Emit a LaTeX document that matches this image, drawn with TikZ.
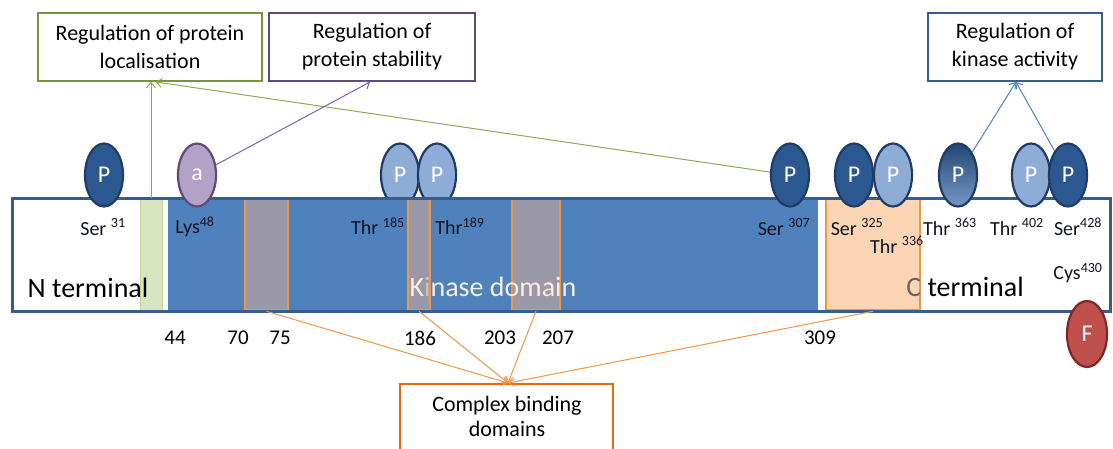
\documentclass[tikz,border=0pt]{standalone}
\usepackage{fontspec}
\setmainfont{Carlito}
\usetikzlibrary{shapes.geometric,arrows.meta}

\definecolor{barblue}{RGB}{79,129,189}
\definecolor{barline}{RGB}{56,93,138}
\definecolor{pdark}{RGB}{44,88,146}
\definecolor{plight}{RGB}{141,172,214}
\definecolor{pline}{RGB}{33,60,100}
\definecolor{afill}{RGB}{179,162,199}
\definecolor{aline}{RGB}{96,74,123}
\definecolor{ffill}{RGB}{192,80,77}
\definecolor{fline}{RGB}{125,40,38}
\definecolor{gfill}{RGB}{215,228,189}
\definecolor{gline}{RGB}{190,212,150}
\definecolor{stripefill}{RGB}{155,152,168}
\definecolor{orng}{RGB}{240,150,70}
\definecolor{ofill}{RGB}{252,213,180}
\definecolor{boxa}{RGB}{119,147,60}
\definecolor{boxb}{RGB}{96,74,123}
\definecolor{boxc}{RGB}{56,93,138}
\definecolor{boxd}{RGB}{228,108,10}
\definecolor{arrg}{RGB}{140,170,90}
\definecolor{arrp}{RGB}{128,100,162}
\definecolor{arrb}{RGB}{79,129,189}
\definecolor{cream}{RGB}{250,240,225}
\definecolor{dimtxt}{RGB}{205,195,185}
\definecolor{ctxt}{RGB}{105,100,100}
\definecolor{labtxt}{RGB}{15,20,35}

\begin{document}
\begin{tikzpicture}[x=1pt,y=-1pt,
 phos/.style={ellipse, draw=pline, line width=2.2pt, minimum width=38pt, minimum height=63pt, inner sep=0pt, text=white, font=\fontsize{24}{24}\selectfont},
 pd/.style={phos, fill=pdark},
 pl/.style={phos, fill=plight},
 regbox/.style={draw, line width=1.8pt, fill=white, align=center, minimum height=68pt, inner sep=0pt, font=\fontsize{22}{28}\selectfont},
 res/.style={font=\fontsize{20}{22}\selectfont, text=labtxt, inner sep=0pt},
 num/.style={font=\fontsize{21}{22}\selectfont, inner sep=0pt},
 big/.style={font=\fontsize{28}{30}\selectfont, inner sep=0pt},
 stripe/.style={draw=orng, line width=2.5pt, fill=stripefill, inner sep=0pt, minimum height=111pt},
 conn/.style={line width=1pt, -{Straight Barb[length=5pt,width=9pt]}},
]
\useasboundingbox (0,0) rectangle (1113,448);

% phosphosites behind the bar
\node[pl] (t185) at (400,175) {P};
\node[pl] (t189) at (437,175) {P};

% bar
\fill[white] (12,198) rectangle (1110,311);
\fill[barblue] (168,198) rectangle (818,311);
\node[draw=gline, fill=gfill, line width=1pt, minimum width=22pt, minimum height=112pt, inner sep=0pt] (gs) at (151,254.5) {};
\node[stripe, minimum width=43pt] (d1) at (266.5,254.5) {};
\node[stripe, minimum width=22pt] (d2) at (419,254.5) {};
\node[stripe, minimum width=48pt] (d3) at (536,254.5) {};
\node[draw=orng, line width=2.5pt, fill=ofill, minimum width=94pt, minimum height=111pt, inner sep=0pt] (d4) at (873,254.5) {};
\draw[barline, line width=3pt] (12,198) rectangle (1110,311);

% domain texts
\node[big] (nterm) at (88,288) {N terminal};
\node[big] (kdom) at (493,287) {\textcolor{cream}{K}\textcolor{dimtxt}{i}\textcolor{cream}{nase domain}};
\node[big] (cterm) at (965,287) {\textcolor{ctxt}{C} terminal};

% residue labels
\node[res] (l31) at (103,227) {Ser \textsuperscript{31}};
\node[res] (l48) at (195,227) {Lys\textsuperscript{48}};
\node[res] (l185) at (378,226) {Thr \textsuperscript{185}};
\node[res] (l189) at (460,226) {Thr\textsuperscript{189}};
\node[res] (l307) at (784,227) {Ser \textsuperscript{307}};
\node[res] (l325) at (857,227) {Ser \textsuperscript{325}};
\node[res] (l336) at (897,245) {Thr \textsuperscript{336}};
\node[res] (l363) at (950,227) {Thr \textsuperscript{363}};
\node[res] (l402) at (1017,227) {Thr \textsuperscript{402}};
\node[res] (l428) at (1078,227) {Ser\textsuperscript{428}};
\node[res] (l430) at (1078,273) {Cys\textsuperscript{430}};

% position numbers
\node[num] (n44) at (175,338) {44};
\node[num] (n70) at (238,338) {70};
\node[num] (n75) at (280,338) {75};
\node[num] (n186) at (420,338) {186};
\node[num] (n203) at (500,338) {203};
\node[num] (n207) at (558,338) {207};
\node[num] (n309) at (820,338) {309};

% modifications on top
\node[pd] (s31) at (104,175) {P};
\node[phos, draw=aline, fill=afill] (acet) at (197,175) {a};
\node[pd] (s307) at (790,175) {P};
\node[pd] (s325) at (854,175) {P};
\node[pl] (t336) at (893,175) {P};
\node[phos, top color=pdark!80!black, bottom color=plight!75!pdark] (t363) at (958,175) {P};
\node[pl] (t402) at (1031,175) {P};
\node[pd] (s428) at (1068,175) {P};
\node[phos, draw=fline, fill=ffill, minimum width=40pt, minimum height=66pt] (farn) at (1087,334) {F};

% function boxes
\node[regbox, draw=boxa, minimum width=224pt] (loc) at (150,47) {Regulation of protein\\localisation};
\node[regbox, draw=boxb, minimum width=206pt] (stab) at (372,47) {Regulation of\\protein stability};
\node[regbox, draw=boxc, minimum width=174pt] (kin) at (1015,47) {Regulation of\\kinase activity};
\node[draw=boxd, line width=1.8pt, fill=white, minimum width=213pt, minimum height=80pt, anchor=north, inner sep=0pt] (cbd) at (506.5,383) {};
\node[font=\fontsize{22}{25}\selectfont, align=center, inner sep=0pt] (cbdtxt) at (507,416) {Complex binding\\domains};

% target points on box borders
\coordinate (loctip) at (156,82);
\coordinate (stabtip) at (370,82);
\coordinate (kintip) at (1016,82);
\coordinate (cbtip) at (508,383);

% connectors
\draw[conn, arrg] (gs.north) -- (gs.north |- loc.south);
\draw[conn, arrg] (s307) -- (loctip);
\draw[conn, arrp] (acet) -- (stabtip);
\draw[conn, arrb] (t363) -- (kintip);
\draw[conn, arrb] (s428) -- (kintip);
\draw[conn, orng] (d1.south) -- (cbtip);
\draw[conn, orng] (d2.south) -- (cbtip);
\draw[conn, orng] (d3.south) -- (cbtip);
\draw[conn, orng] (d4.south) -- (cbtip);
\end{tikzpicture}
\end{document}
